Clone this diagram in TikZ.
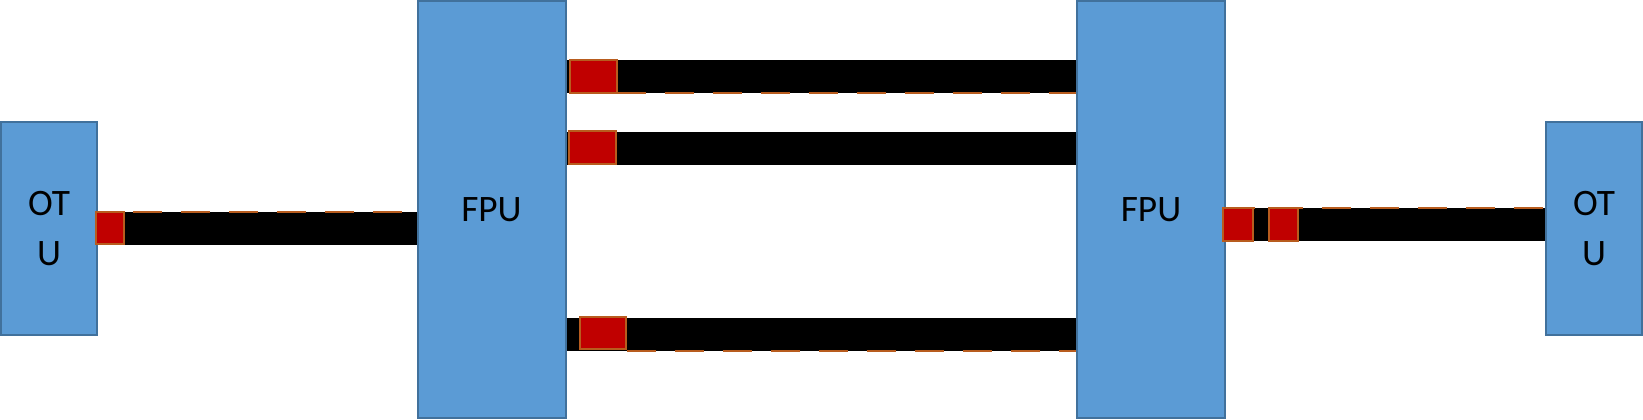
\documentclass[tikz,border=0pt]{standalone}
\usepackage{fontspec}
\setmainfont{Carlito}
\definecolor{boxblue}{HTML}{5B9BD5}
\definecolor{boxedge}{HTML}{41719C}
\definecolor{portred}{HTML}{C00000}
\definecolor{portedge}{HTML}{B85C1E}
\begin{document}
\begin{tikzpicture}[x=0.75pt,y=-0.75pt,
  unit/.style={draw=boxedge,fill=boxblue,line width=1.5pt,inner sep=0pt,
    font=\fontsize{28}{34}\selectfont,align=center},
  otu/.style={unit,minimum width=72pt,minimum height=160pt},
  fpu/.style={unit,minimum width=111pt,minimum height=312.75pt},
  link/.style={line width=24.75pt,black},
  trace/.style={portedge,line width=1.5pt,dash pattern=on 22pt off 14pt},
  port/.style={draw=portedge,fill=portred,line width=1.5pt,inner sep=0pt}]
\useasboundingbox (0,0) rectangle (1643,419);
\node[otu] (otuL) at (49,228.5) {OT\\[4pt]U};
\node[fpu] (fpuL) at (491.5,209.5) {FPU};
\node[fpu] (fpuR) at (1151,209.5) {FPU};
\node[otu] (otuR) at (1594,228.5) {OT\\[4pt]U};
\coordinate (yA) at (0,76.5);
\coordinate (yB) at (0,148.5);
\coordinate (yC) at (0,334);
\coordinate (yR) at (0,224.5);
% links
\draw[link] (otuL.east) -- (fpuL.west |- otuL.east);
\draw[trace] ([yshift=12.4pt]otuL.east) ++(35,0) -- ([yshift=12.4pt]fpuL.west |- otuL.east);
\draw[link] (fpuL.east |- yA) -- (fpuR.west |- yA);
\draw[link] (fpuL.east |- yB) -- (fpuR.west |- yB);
\draw[link] (fpuL.east |- yC) -- (fpuR.west |- yC);
\draw[link] (fpuR.east |- yR) -- (otuR.west |- yR);
\draw[trace] ([yshift=12.4pt]fpuR.east |- yR) -- ([yshift=12.4pt]otuR.west |- yR);
\draw[trace] ([yshift=-12.4pt]fpuL.east |- yA) ++(50,0) -- ([yshift=-12.4pt]fpuR.west |- yA);
\draw[trace] ([yshift=-12.4pt]fpuL.east |- yC) ++(60,0) -- ([yshift=-12.4pt]fpuR.west |- yC);
% ports
\node[port,minimum width=21pt,minimum height=24pt] (pL) at (110,228) {};
\node[port,minimum width=35.25pt,minimum height=24.75pt] (pA) at (593.5,76.5) {};
\node[port,minimum width=35.25pt,minimum height=24.75pt] (pB) at (592.5,147.5) {};
\node[port,minimum width=34.5pt,minimum height=24pt] (pC) at (603,333) {};
\node[port,minimum width=22.5pt,minimum height=24.75pt] (pR1) at (1238,224.5) {};
\node[port,minimum width=21.75pt,minimum height=24.75pt] (pR2) at (1283.5,224.5) {};
\end{tikzpicture}
\end{document}
